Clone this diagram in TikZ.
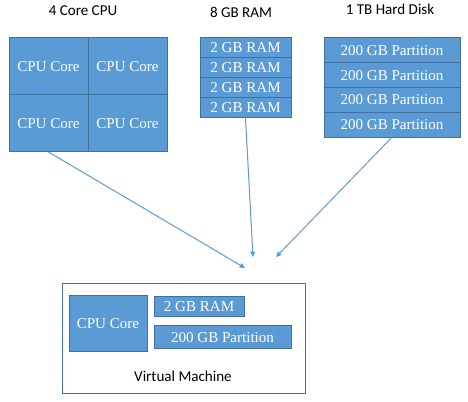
\documentclass[tikz,border=0pt]{standalone}
\usepackage{fontspec}
\setmainfont{Liberation Serif}
\newfontfamily\labelfont{Carlito}
\usetikzlibrary{arrows.meta,positioning}

\definecolor{cellfill}{HTML}{5B9BD5}
\definecolor{celldraw}{HTML}{41719C}

\begin{document}
\begin{tikzpicture}[
  x=0.75pt, y=-0.75pt,
  >={Triangle[length=4pt,width=3.6pt]},
  cell/.style={draw=celldraw, fill=cellfill, line width=0.75pt, text=white,
    outer sep=0pt, inner sep=0pt, font=\fontsize{11.3}{13}\selectfont},
  cpucell/.style={cell, minimum width=59.25pt, minimum height=42.75pt},
  ramcell/.style={cell, minimum width=68.25pt, minimum height=15pt},
  diskcell/.style={cell, minimum width=102pt, minimum height=18.6pt},
  title/.style={font=\labelfont\fontsize{11.3}{13}\selectfont, inner sep=0pt},
  link/.style={->, draw=cellfill, line width=0.75pt},
  node distance=0pt
]
\useasboundingbox (0,0) rectangle (468,402);

% ---------- HOST ----------
\node[title] (cpulabel) at (83,11) {4 Core CPU};
\node[title] (ramlabel) at (241,12) {8 GB RAM};
\node[title] (disklabel) at (390,9) {1 TB Hard Disk};

\node[cpucell, anchor=north west] (c1) at (9,38) {CPU Core};
\node[cpucell, right=of c1] (c2) {CPU Core};
\node[cpucell, below=of c1] (c3) {CPU Core};
\node[cpucell, right=of c3] (c4) {CPU Core};

\node[ramcell, anchor=north west] (r1) at (200,38) {2 GB RAM};
\node[ramcell, below=of r1] (r2) {2 GB RAM};
\node[ramcell, below=of r2] (r3) {2 GB RAM};
\node[ramcell, below=of r3] (r4) {2 GB RAM};

\node[diskcell, anchor=north west] (d1) at (324,38) {200 GB Partition};
\node[diskcell, below=of d1] (d2) {200 GB Partition};
\node[diskcell, below=of d2] (d3) {200 GB Partition};
\node[diskcell, below=of d3] (d4) {200 GB Partition};

% ---------- VIRTUAL MACHINE ----------
\node[draw=celldraw, line width=0.75pt, minimum width=182.25pt, minimum height=82.5pt,
  anchor=north west, inner sep=0pt] (vm) at (62,283) {};
\node[cell, minimum width=58.5pt, minimum height=42pt, anchor=north west] (vmcpu) at (69,296) {CPU Core};
\node[cell, minimum width=67.5pt, minimum height=15pt, anchor=north west] (vmram) at (154,297) {2 GB RAM};
\node[cell, minimum width=102.75pt, minimum height=17.25pt, anchor=north west] (vmdisk) at (154,326) {200 GB Partition};
\node[title] (vmlabel) at (183,376) {Virtual Machine};

\coordinate (t1) at (245,268);
\coordinate (t2) at (253,257);
\coordinate (t3) at (276,257);

\draw[link] (c3.south) -- (t1);
\draw[link] (r4.south) -- (t2);
\draw[link] (d4.south) -- (t3);

\end{tikzpicture}
\end{document}
